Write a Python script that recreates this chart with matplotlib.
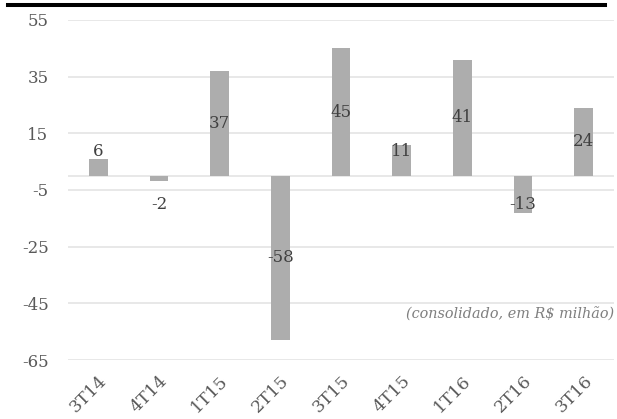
import matplotlib.pyplot as plt
from matplotlib.lines import Line2D

quarters = ["3T14", "4T14", "1T15", "2T15", "3T15", "4T15", "1T16", "2T16", "3T16"]
values = [6, -2, 37, -58, 45, 11, 41, -13, 24]
y_ticks = [55, 35, 15, -5, -25, -45, -65]

plt.rcParams["font.family"] = ["DejaVu Serif"]

fig = plt.figure(figsize=(6.17, 4.19), dpi=100)
ax = fig.add_axes([68 / 617, 1 - 360 / 419, 546 / 617, 340 / 419])

x = range(len(quarters))
ax.bar(x, values, width=0.31, color="#adadad", zorder=2)

# labels sit in the middle of the bar, small ones pushed just outside
for i, v in enumerate(values):
    if abs(v) > 15:
        y = v / 2
    else:
        y = 8.5 if v > 0 else -10
    ax.text(i, y, str(v), ha="center", va="center", fontsize=12, color="#404040", zorder=3)

ax.set_xlim(-0.5, len(quarters) - 0.5)
ax.set_ylim(-65, 55)
ax.set_yticks(y_ticks)
ax.set_yticklabels([str(t) for t in y_ticks], fontsize=12, color="#595959")
ax.yaxis.grid(True, color="#e6e6e6", linewidth=1.3, zorder=0)
ax.axhline(0, color="#e6e6e6", linewidth=1.3, zorder=1)
ax.tick_params(axis="y", length=0, pad=14)
ax.tick_params(axis="x", length=0, pad=9)
ax.set_xticks(list(x))
ax.set_xticklabels(quarters, rotation=45, ha="right", va="top", fontsize=12.5,
                   color="#595959", rotation_mode="anchor")
for s in ax.spines.values():
    s.set_visible(False)

ax.text(1.0, -49, "(consolidado, em R$ milhão)", transform=ax.get_yaxis_transform(),
        ha="right", va="center", fontsize=10.4, style="italic", color="#7f7f7f")

fig.add_artist(Line2D([8 / 617, 605 / 617], [1 - 4.8 / 419, 1 - 4.8 / 419],
                      color="black", linewidth=2.9, transform=fig.transFigure))

fig.savefig("out.png", dpi=100)
